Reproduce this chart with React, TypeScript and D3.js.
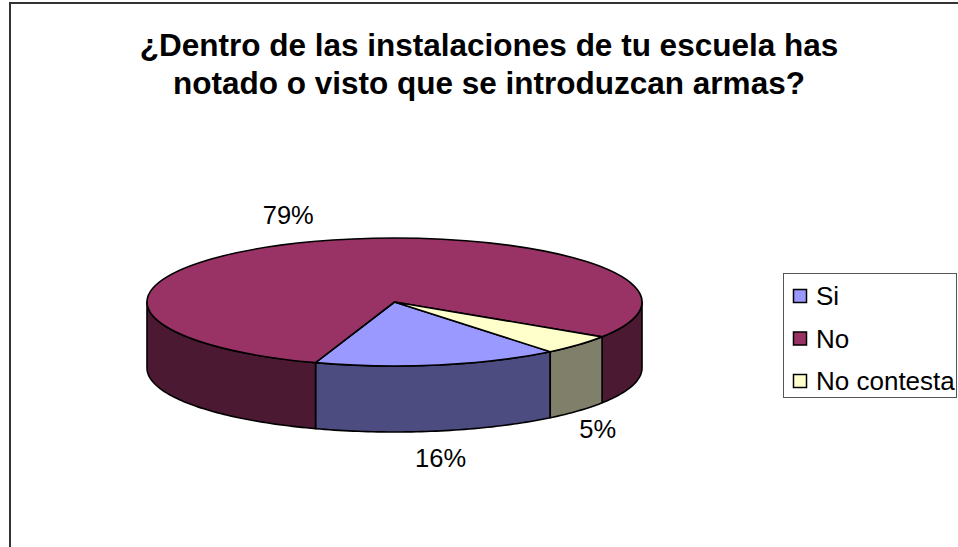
import React from "react";
import * as d3 from "d3";

// chart data
const categories = ["Si", "No", "No contesta"];
const values = [16, 79, 5];
const labels = ["16%", "79%", "5%"];
const topColors = ["#9999FF", "#993366", "#FFFFCC"];
const sideColors = ["#4C4C80", "#4C1933", "#80806A"];
const titleLines = [
  "¿Dentro de las instalaciones de tu escuela has",
  "notado o visto que se introduzcan armas?",
];

const W = 958,
  H = 547;
const cx = 394.5,
  cy = 302,
  rx = 247.5,
  ry = 64,
  depth = 66;
const font = "Arial, 'Liberation Sans', sans-serif";

// point on the ellipse for a pie angle (0 = top, clockwise)
function pt(a: number, dy = 0): [number, number] {
  return [cx + rx * Math.sin(a), cy - ry * Math.cos(a) + dy];
}

function sidePath(s: number, e: number) {
  const n = Math.max(2, Math.ceil((e - s) / 0.02));
  const angles = d3.range(n + 1).map((i) => s + ((e - s) * i) / n);
  const top = angles.map((a) => pt(a));
  const bottom = angles.map((a) => pt(a, depth)).reverse();
  return d3.line()([...top, ...bottom]) + "Z";
}

export default function App() {
  const start = (141 * Math.PI) / 180;
  const pie = d3
    .pie<number>()
    .sort(null)
    .startAngle(start)
    .endAngle(start + 2 * Math.PI);
  const arcs = pie(values);
  const arc = d3.arc<d3.PieArcDatum<number>>().innerRadius(0).outerRadius(rx);

  // visible front wall segments
  const walls: { d: string; i: number }[] = [];
  arcs.forEach((a, i) => {
    [-2, 0, 2].forEach((k) => {
      const s = Math.max(a.startAngle + k * Math.PI, Math.PI / 2);
      const e = Math.min(a.endAngle + k * Math.PI, (3 * Math.PI) / 2);
      if (e > s + 1e-6) walls.push({ d: sidePath(s, e), i });
    });
  });

  const legendY = d3.scalePoint().domain(categories).range([296, 381]);

  return (
    <svg
      width={W}
      height={H}
      style={{ position: "absolute", left: 0, top: 0, background: "#fff" }}
    >
      <rect x={10} y={3} width={1000} height={600} fill="#fff" stroke="#333" strokeWidth={2} />
      {titleLines.map((t, i) => (
        <text
          key={i}
          x={489}
          y={56 + i * 38}
          textAnchor="middle"
          fontFamily={font}
          fontWeight="bold"
          fontSize={31.5}
          fill="#000"
        >
          {t}
        </text>
      ))}

      {walls.map((w, j) => (
        <path
          key={"w" + j}
          d={w.d}
          fill={sideColors[w.i]}
          stroke="#000"
          strokeWidth={1.6}
          strokeLinejoin="round"
        />
      ))}

      <g transform={`translate(${cx},${cy}) scale(1,${ry / rx})`}>
        {arcs.map((a, i) => (
          <path
            key={"t" + i}
            d={arc(a) || ""}
            fill={topColors[i]}
            stroke="#000"
            strokeWidth={1.6}
            strokeLinejoin="round"
            vectorEffect="non-scaling-stroke"
          />
        ))}
      </g>

      {arcs.map((a, i) => {
        const m = (a.startAngle + a.endAngle) / 2;
        const front = Math.cos(m) < 0;
        const x = cx + (rx + 30) * Math.sin(m) + (front ? -3 : -15);
        const y = cy - (ry + 28) * Math.cos(m) + (front ? depth : 0);
        return (
          <text
            key={"l" + i}
            x={x}
            y={y}
            dy="0.35em"
            textAnchor="middle"
            fontFamily={font}
            fontSize={25.5}
            fill="#000"
          >
            {labels[i]}
          </text>
        );
      })}

      <rect x={783.5} y={273.5} width={173} height={124} fill="#fff" stroke="#555" strokeWidth={1} />
      {categories.map((c, i) => (
        <g key={c}>
          <rect
            x={793.5}
            y={(legendY(c) as number) - 6.5}
            width={13}
            height={13}
            fill={topColors[i]}
            stroke="#000"
            strokeWidth={1.5}
          />
          <text
            x={816}
            y={legendY(c) as number}
            dy="0.35em"
            fontFamily={font}
            fontSize={26}
            fill="#000"
          >
            {c}
          </text>
        </g>
      ))}
    </svg>
  );
}
